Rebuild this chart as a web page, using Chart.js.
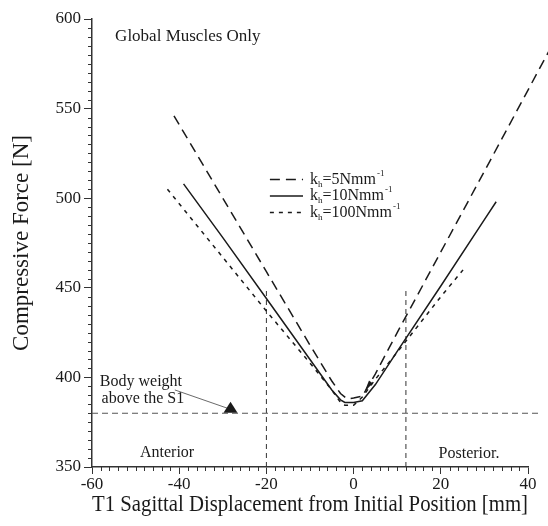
<!DOCTYPE html>
<html>
<head>
<meta charset="utf-8">
<script src="https://cdn.jsdelivr.net/npm/chart.js@4.4.0/dist/chart.umd.min.js"></script>
<style>
html, body { margin: 0; padding: 0; background: #fff; }
#wrap { width: 548px; height: 526px; }
</style>
</head>
<body>
<div id="wrap"><canvas id="chart" width="548" height="526"></canvas></div>
<script>
// T1 sagittal displacement [mm] -> compressive force [N]
const xK5 = [-41.2, -30, -20, -10, -5, -3, -1.5, 0, 2, 5, 10, 20, 30, 45];
const yK5 = [546, 500, 459, 418, 398, 391, 388, 388.5, 389.5, 402, 425, 470, 515, 583];

const xK10 = [-39, -30, -20, -10, -5, -3, -2, 0, 2, 5, 10, 20, 30, 32.7];
const yK10 = [508, 478, 444, 410, 393, 387.5, 386, 386, 387, 396, 414.5, 451, 488, 498];

const xK100 = [-42.7, -30, -20, -10, -5, -3, -2, 0, 2, 5, 10, 20, 25.1];
const yK100 = [505, 467, 437, 408, 393, 386, 384.5, 384.5, 389, 399, 414, 445, 460];

const seriesNames = ['5', '10', '100'];   // k_h values [N/mm]

const bodyWeight = 380;      // body weight above S1 [N]
const limitX = [-20, 12];    // vertical limit lines
const limitTop = 450;

const xTicks = [-60, -40, -20, 0, 20, 40];
const yTicks = [350, 400, 450, 500, 550, 600];

const serif = "'Liberation Serif', 'DejaVu Serif', serif";
const ink = '#1a1a1a';

function pts(xs, ys) {
    return xs.map((x, i) => ({x: x, y: ys[i]}));
}

function lineSet(data, dash, width, color) {
    return {
        data: data,
        showLine: true,
        borderColor: color || ink,
        borderWidth: width,
        borderDash: dash,
        pointRadius: 0,
        tension: 0,
        fill: false,
        clip: false
    };
}

const datasets = [
    lineSet(pts(xK5, yK5), [10, 6], 1.5),
    lineSet(pts(xK10, yK10), [], 1.5),
    lineSet(pts(xK100, yK100), [4, 5], 1.5),
    lineSet([{x: -60, y: bodyWeight}, {x: 43, y: bodyWeight}], [6, 4], 1.2, '#555'),
    lineSet([{x: limitX[0], y: 350}, {x: limitX[0], y: limitTop}], [5, 4], 1, '#333'),
    lineSet([{x: limitX[1], y: 350}, {x: limitX[1], y: limitTop}], [5, 4], 1, '#333')
];

// minor ticks, legend, and labels
const extras = {
    id: 'extras',
    afterDraw(chart) {
        const ctx = chart.ctx;
        const xs = chart.scales.x, ys = chart.scales.y;
        const area = chart.chartArea;
        ctx.save();
        ctx.strokeStyle = '#333';
        ctx.lineWidth = 1;
        for (let v = 350; v <= 600; v += 5) {
            if (v % 50 === 0) continue;
            const py = Math.round(ys.getPixelForValue(v)) + 0.5;
            ctx.beginPath();
            ctx.moveTo(area.left - 4, py);
            ctx.lineTo(area.left, py);
            ctx.stroke();
        }
        for (let v = -60; v <= 40; v += 2) {
            if (v % 20 === 0) continue;
            const px = Math.round(xs.getPixelForValue(v)) + 0.5;
            ctx.beginPath();
            ctx.moveTo(px, area.bottom);
            ctx.lineTo(px, area.bottom + 4);
            ctx.stroke();
        }

        const P = (x, y) => [xs.getPixelForValue(x), ys.getPixelForValue(y)];
        ctx.fillStyle = ink;
        ctx.textBaseline = 'middle';
        ctx.textAlign = 'left';

        ctx.font = '17px ' + serif;
        let p = P(-54.7, 590);
        ctx.fillText('Global Muscles Only', p[0], p[1]);

        ctx.font = '16px ' + serif;
        p = P(-58.2, 397.4);
        ctx.fillText('Body weight', p[0], p[1]);
        p = P(-57.8, 388.3);
        ctx.fillText('above the S1', p[0], p[1]);
        p = P(-49, 358);
        ctx.fillText('Anterior', p[0], p[1]);
        p = P(19.5, 357.5);
        ctx.fillText('Posterior.', p[0], p[1]);

        // pointer to the body weight line
        const a = P(-41, 393), b = P(-28, 382);
        ctx.strokeStyle = '#444';
        ctx.lineWidth = 0.8;
        ctx.beginPath();
        ctx.moveTo(a[0], a[1]);
        ctx.lineTo(b[0], b[1]);
        ctx.stroke();
        ctx.beginPath();
        ctx.moveTo(b[0] + 6, b[1] + 3);
        ctx.lineTo(b[0] - 8, b[1] + 3);
        ctx.lineTo(b[0] - 1, b[1] - 8);
        ctx.closePath();
        ctx.fill();

        // small arrowhead on the k=10 curve
        const c = P(3.3, 395.5);
        ctx.beginPath();
        ctx.moveTo(c[0] - 3, c[1] + 5);
        ctx.lineTo(c[0] + 1, c[1] - 5);
        ctx.lineTo(c[0] + 5, c[1] - 2);
        ctx.closePath();
        ctx.fill();

        // legend
        const dashes = [[10, 6], [], [4, 5]];
        const rows = [510.5, 501.2, 492];
        seriesNames.forEach((n, i) => {
            const l0 = P(-19.2, rows[i]), l1 = P(-11.6, rows[i]);
            ctx.strokeStyle = ink;
            ctx.lineWidth = 1.5;
            ctx.setLineDash(dashes[i]);
            ctx.beginPath();
            ctx.moveTo(l0[0], l0[1]);
            ctx.lineTo(l1[0], l1[1]);
            ctx.stroke();
            ctx.setLineDash([]);
            let tx = l1[0] + 7;
            const ty = l0[1];
            ctx.font = '16px ' + serif;
            ctx.fillText('k', tx, ty);
            tx += ctx.measureText('k').width;
            ctx.font = '9px ' + serif;
            ctx.fillText('h', tx, ty + 5);
            tx += ctx.measureText('h').width;
            ctx.font = '16px ' + serif;
            const body = '=' + n + 'Nmm';
            ctx.fillText(body, tx, ty);
            tx += ctx.measureText(body).width;
            ctx.font = '9px ' + serif;
            ctx.fillText('-1', tx + 1, ty - 6);
        });
        ctx.restore();
    }
};

new Chart(document.getElementById('chart').getContext('2d'), {
    type: 'scatter',
    data: {datasets: datasets},
    options: {
        responsive: false,
        animation: false,
        layout: {padding: {top: 19, right: 20, left: 0, bottom: 0}},
        plugins: {legend: {display: false}, tooltip: {enabled: false}},
        scales: {
            x: {
                type: 'linear',
                min: -60, max: 40,
                afterBuildTicks: s => { s.ticks = xTicks.map(v => ({value: v})); },
                afterFit: s => { s.height = 59; },
                ticks: {color: ink, font: {family: serif, size: 17}, padding: 0, maxRotation: 0},
                grid: {drawOnChartArea: false, drawTicks: true, tickLength: 7, tickColor: '#333'},
                border: {display: true, color: '#333', width: 1.5},
                title: {display: true, text: 'T1 Sagittal Displacement from Initial Position [mm]',
                        color: ink, font: {family: serif, size: 23}, padding: {top: 0, bottom: 7}}
            },
            y: {
                type: 'linear',
                min: 350, max: 600,
                afterBuildTicks: s => { s.ticks = yTicks.map(v => ({value: v})); },
                afterFit: s => { s.width = 92; },
                ticks: {color: ink, font: {family: serif, size: 17}, padding: 3},
                grid: {drawOnChartArea: false, drawTicks: true, tickLength: 8, tickColor: '#333'},
                border: {display: true, color: '#333', width: 1.5},
                title: {display: true, text: 'Compressive Force [N]',
                        color: ink, font: {family: serif, size: 23}, padding: {top: 8, bottom: 0}}
            }
        }
    },
    plugins: [extras]
});
</script>
</body>
</html>
